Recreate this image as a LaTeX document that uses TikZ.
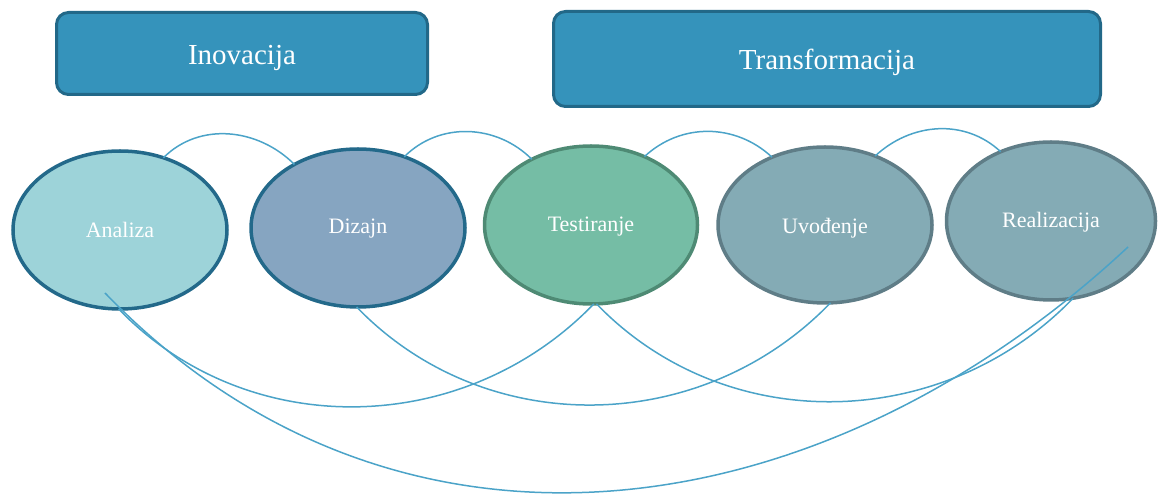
\documentclass[tikz,border=0pt]{standalone}
\usepackage{fontspec}
\setmainfont{Liberation Serif}
\usetikzlibrary{shapes.geometric}
\definecolor{boxfill}{RGB}{53,147,187}
\definecolor{boxline}{RGB}{34,104,136}
\definecolor{fA}{RGB}{157,211,217}
\definecolor{fD}{RGB}{134,165,193}
\definecolor{fT}{RGB}{117,189,165}
\definecolor{fU}{RGB}{132,171,181}
\definecolor{lBlue}{RGB}{35,105,138}
\definecolor{lGreen}{RGB}{78,138,116}
\definecolor{lGray}{RGB}{95,125,135}
\definecolor{conn}{RGB}{75,163,200}
\newcommand{\lowered}[2]{\raisebox{-#1}[\height][\depth]{#2}}
\tikzset{
  titlebox/.style={draw=boxline, fill=boxfill, line width=3pt, rounded corners=12pt,
    inner sep=0pt, outer sep=0pt, text=white, font=\fontsize{29}{33}\selectfont},
  phase/.style={ellipse, line width=3.5pt, inner sep=0pt, outer sep=0pt,
    text=white, font=\fontsize{22}{26}\selectfont},
  link/.style={draw=conn, line width=1.5pt}
}
\begin{document}
\begin{tikzpicture}[x=1pt,y=1pt]
\useasboundingbox (0,0) rectangle (1158,495);
% title boxes
\node[titlebox, minimum width=371pt, minimum height=82pt] (inov) at (242,441.5) {\lowered{4pt}{Inovacija}};
\node[titlebox, minimum width=547pt, minimum height=95pt] (trans) at (827,436) {\lowered{3pt}{Transformacija}};
% phases
\node[phase, draw=lBlue, fill=fA, minimum width=214pt, minimum height=158pt] (A) at (120,265) {Analiza};
\node[phase, draw=lBlue, fill=fD, minimum width=214pt, minimum height=158pt] (D) at (358,267) {\lowered{1pt}{Dizajn}};
\node[phase, draw=lGreen, fill=fT, minimum width=213pt, minimum height=158pt] (T) at (591,270) {\lowered{2pt}{Testiranje}};
\node[phase, draw=lGray, fill=fU, minimum width=214pt, minimum height=156pt] (U) at (825,270) {\lowered{3pt}{Uvođenje}};
\node[phase, draw=lGray, fill=fU, minimum width=209pt, minimum height=158pt] (R) at (1051,274) {\lowered{1pt}{Realizacija}};
\coordinate (dA) at (105,202);
\coordinate (dR) at (1128,248);
% top arcs
\draw[link] (A.59) to[out=45,in=135] (D.135);
\draw[link] (D.57) to[out=45,in=135] (T.132);
\draw[link] (T.52) to[out=43,in=137] (U.128);
\draw[link] (U.54) to[out=43,in=137] (R.126);
% bottom curves
\draw[link] (A.-91) to[out=-46,in=-134] (T.-88);
\draw[link] (D.-91) to[out=-46,in=-134] (U.-86);
\draw[link] (T.-86) to[out=-46,in=-134] (R.-74);
\draw[link] (dA) to[out=-46,in=-137,looseness=1.05] (dR);
\end{tikzpicture}
\end{document}
